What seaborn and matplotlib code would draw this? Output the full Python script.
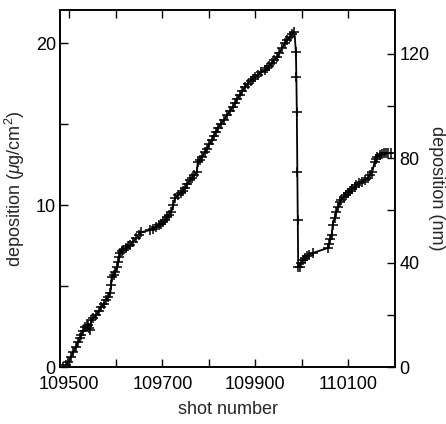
import matplotlib
matplotlib.use("Agg")
import matplotlib.pyplot as plt
import seaborn as sns
import pandas as pd
from matplotlib.ticker import FixedLocator

# data
shot = [109487, 109492, 109498, 109503, 109509, 109514, 109519, 109523, 109526,
        109530, 109534, 109538, 109541, 109543, 109545, 109547, 109552, 109558,
        109563, 109569, 109574, 109579, 109584, 109588, 109590, 109591, 109595,
        109599, 109602, 109605, 109607, 109609, 109613, 109616, 109622, 109627,
        109631, 109637, 109644, 109649, 109654, 109674, 109680, 109686, 109692,
        109698, 109702, 109706, 109711, 109715, 109719, 109723, 109727, 109733,
        109739, 109744, 109749, 109754, 109759, 109764, 109769, 109774, 109776,
        109780, 109786, 109791, 109796, 109801, 109806, 109810, 109815, 109819,
        109825, 109832, 109839, 109845, 109851, 109856, 109861, 109866, 109872,
        109877, 109883, 109890, 109895, 109899, 109905, 109912, 109920, 109925,
        109930, 109935, 109940, 109946, 109951, 109957, 109963, 109968, 109974,
        109979, 109984,
        109987, 109988, 109989, 109990, 109991, 109992,
        109995, 109998, 110002, 110006, 110011, 110016, 110023, 110055, 110058,
        110061, 110064, 110066, 110070, 110074, 110077, 110081, 110085, 110090,
        110094, 110098, 110103, 110108, 110113, 110117, 110123, 110129, 110135,
        110141, 110146, 110151, 110156, 110159, 110162, 110167, 110172, 110177,
        110181, 110186, 110192]
deposition = [0.0, 0.1, 0.31, 0.6, 0.93, 1.25, 1.54, 1.8, 1.98,
              2.25, 2.47, 2.55, 2.59, 2.4, 2.28, 2.90, 3.05, 3.21,
              3.45, 3.70, 3.9, 4.14, 4.35, 4.57, 5.06, 5.56, 5.7,
              5.86, 6.15, 6.48, 6.8, 7.04, 7.15, 7.22, 7.35, 7.45,
              7.53, 7.75, 7.96, 8.15, 8.33, 8.46, 8.55, 8.64, 8.75,
              8.85, 8.95, 9.07, 9.25, 9.4, 9.57, 10.0, 10.43, 10.6,
              10.75, 10.9, 11.05, 11.3, 11.54, 11.7, 11.85, 12.04, 12.65,
              12.8, 13.0, 13.27, 13.5, 13.75, 14.01, 14.25, 14.5, 14.75,
              15.0, 15.25, 15.56, 15.8, 16.05, 16.30, 16.55, 16.8, 17.05,
              17.28, 17.5, 17.7, 17.82, 17.90, 18.05, 18.2, 18.33, 18.48,
              18.62, 18.77, 18.95, 19.14, 19.4, 19.7, 20.0, 20.2, 20.4,
              20.55, 20.68,
              19.44, 17.90, 15.74, 12.04, 9.07, 6.17,
              6.17, 6.4, 6.6, 6.73, 6.85, 6.95, 7.04, 7.35, 7.6,
              7.9, 8.15, 8.77, 9.2, 9.57, 9.9, 10.19, 10.35, 10.5,
              10.62, 10.74, 10.87, 11.0, 11.12, 11.23, 11.35, 11.45, 11.56,
              11.67, 11.85, 12.04, 12.65, 12.85, 12.96, 13.08, 13.15, 13.2,
              13.21, 13.22, 13.21]
x_major = [109500, 109700, 109900, 110100]
x_minor = [109600, 109800, 110000]
y_major = [0, 10, 20]
y_minor = [5, 15]
nm_major = [0, 40, 80, 120]
nm_minor = [20, 60, 100]
nm_per_ug = 6.2

sns.set_style("ticks")
plt.rcParams["font.family"] = ["Liberation Sans", "DejaVu Sans"]
plt.rcParams["mathtext.fontset"] = "custom"
plt.rcParams["mathtext.rm"] = "Liberation Sans"
plt.rcParams["mathtext.it"] = "Liberation Sans:italic"

df = pd.DataFrame({"shot": shot, "deposition": deposition})

fig = plt.figure(figsize=(4.46, 4.24), dpi=100)
ax = fig.add_axes([60/446, 1-367/424, (395-60)/446, (367-10)/424])
sns.lineplot(data=df, x="shot", y="deposition", ax=ax, sort=False, estimator=None,
             color="black", linewidth=1.3, marker="+", markersize=6.5,
             markeredgewidth=1.1, markeredgecolor="black")

ax.set_xlim(109480, 110200)
ax.set_ylim(0, 22.06)
ax.xaxis.set_major_locator(FixedLocator(x_major))
ax.xaxis.set_minor_locator(FixedLocator(x_minor))
ax.yaxis.set_major_locator(FixedLocator(y_major))
ax.yaxis.set_minor_locator(FixedLocator(y_minor))
ax.set_xticklabels([str(v) for v in x_major])
ax.tick_params(which="both", direction="in", length=6, width=1, top=True,
               right=False, labelsize=13, colors="black")
ax.tick_params(axis="x", pad=6.5)
ax.tick_params(axis="y", pad=3)
ax.set_xlabel("shot number", fontsize=13, labelpad=6)
ax.set_ylabel(r"deposition ($\mu$g/cm$^2$)", fontsize=13, labelpad=6)

ax2 = ax.twinx()
ax2.set_ylim(0, 22.06 * nm_per_ug)
ax2.yaxis.set_major_locator(FixedLocator(nm_major))
ax2.yaxis.set_minor_locator(FixedLocator(nm_minor))
ax2.tick_params(which="both", direction="in", length=6, width=1, labelsize=13,
                colors="black", pad=3)
ax2.set_ylabel("deposition (nm)", fontsize=13, rotation=270, va="center", ha="center")
ax2.yaxis.set_label_coords((437 - 60) / 335, 0.5)

for a in (ax, ax2):
    for s in a.spines.values():
        s.set_visible(True)
        s.set_linewidth(1.2)
        s.set_color("black")

fig.savefig("out.png", dpi=100)
